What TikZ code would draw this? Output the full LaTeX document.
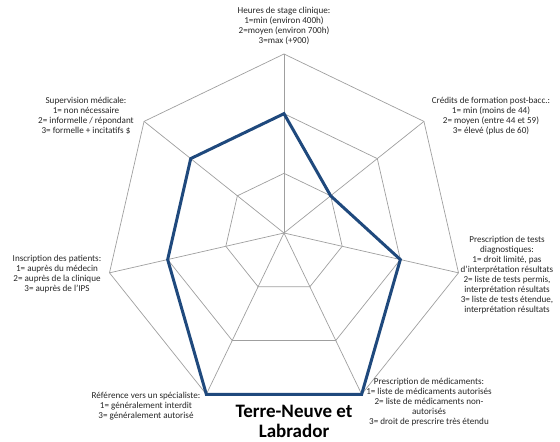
\documentclass[tikz,border=0pt]{standalone}
\usepackage{fontspec}
\setmainfont{Carlito}
\begin{document}
\begin{tikzpicture}[x=1pt,y=-1pt,
  gridline/.style={draw=gray!75,line width=0.7pt},
  series/.style={draw=seriesblue,line width=3pt,line join=miter},
  axislabel/.style={align=center,font=\fontsize{9.1}{10}\selectfont,inner sep=0pt,text=black!85},
  chartitle/.style={align=center,font=\fontsize{19}{20}\selectfont\bfseries,inner sep=0pt}]
\definecolor{seriesblue}{RGB}{31,73,125}
\useasboundingbox (0,0) rectangle (560,442);
\coordinate (O) at (284,233);
% axis end points and the three rings
\foreach \k in {0,...,6}{
  \path (O) ++(-90+\k*360/7:179) coordinate (a\k);
  \path (O) ++(-90+\k*360/7:119.33) coordinate (b\k);
  \path (O) ++(-90+\k*360/7:59.67) coordinate (c\k);
}
\foreach \r in {a,b,c}{
  \draw[gridline] (\r0) -- (\r1) -- (\r2) -- (\r3) -- (\r4) -- (\r5) -- (\r6) -- cycle;
}
\foreach \k in {0,...,6}{ \draw[gridline] (O) -- (a\k); }
% scores: 2,1,2,3,3,2,2
\draw[series] (b0) -- (c1) -- (b2) -- (a3) -- (a4) -- (b5) -- (b6) -- cycle;
% axis labels
\node[axislabel,anchor=north] (l0) at (284,7) {Heures de stage clinique:\\1=min (environ 400h)\\2=moyen (environ 700h)\\3=max (+900)};
\node[axislabel,anchor=north] (l1) at (491,97) {Crédits de formation post-bacc.:\\1= min (moins de 44)\\2= moyen (entre 44 et 59)\\3= élevé (plus de 60)};
\node[axislabel,anchor=north] (l2) at (507,236) {Prescription de tests\\diagnostiques:\\1= droit limité, pas\\d'interprétation résultats\\2= liste de tests permis,\\interprétation résultats\\3= liste de tests étendue,\\interprétation résultats};
\node[axislabel,anchor=north] (l3) at (429,378) {Prescription de médicaments:\\1= liste de médicaments autorisés\\2= liste de médicaments non-\\autorisés\\3= droit de prescrire très étendu};
\node[axislabel,anchor=north] (l4) at (146,392) {Référence vers un spécialiste:\\1= généralement interdit\\3= généralement autorisé};
\node[axislabel,anchor=north] (l5) at (57,255) {Inscription des patients:\\1= auprès du médecin\\2= auprès de la clinique\\3= auprès de l'IPS};
\node[axislabel,anchor=north] (l6) at (86,97) {Supervision médicale:\\1= non nécessaire\\2= informelle / répondant\\3= formelle + incitatifs \$};
% chart title
\node[chartitle,anchor=north] (title) at (294,405) {Terre-Neuve et\\Labrador};
\end{tikzpicture}
\end{document}
